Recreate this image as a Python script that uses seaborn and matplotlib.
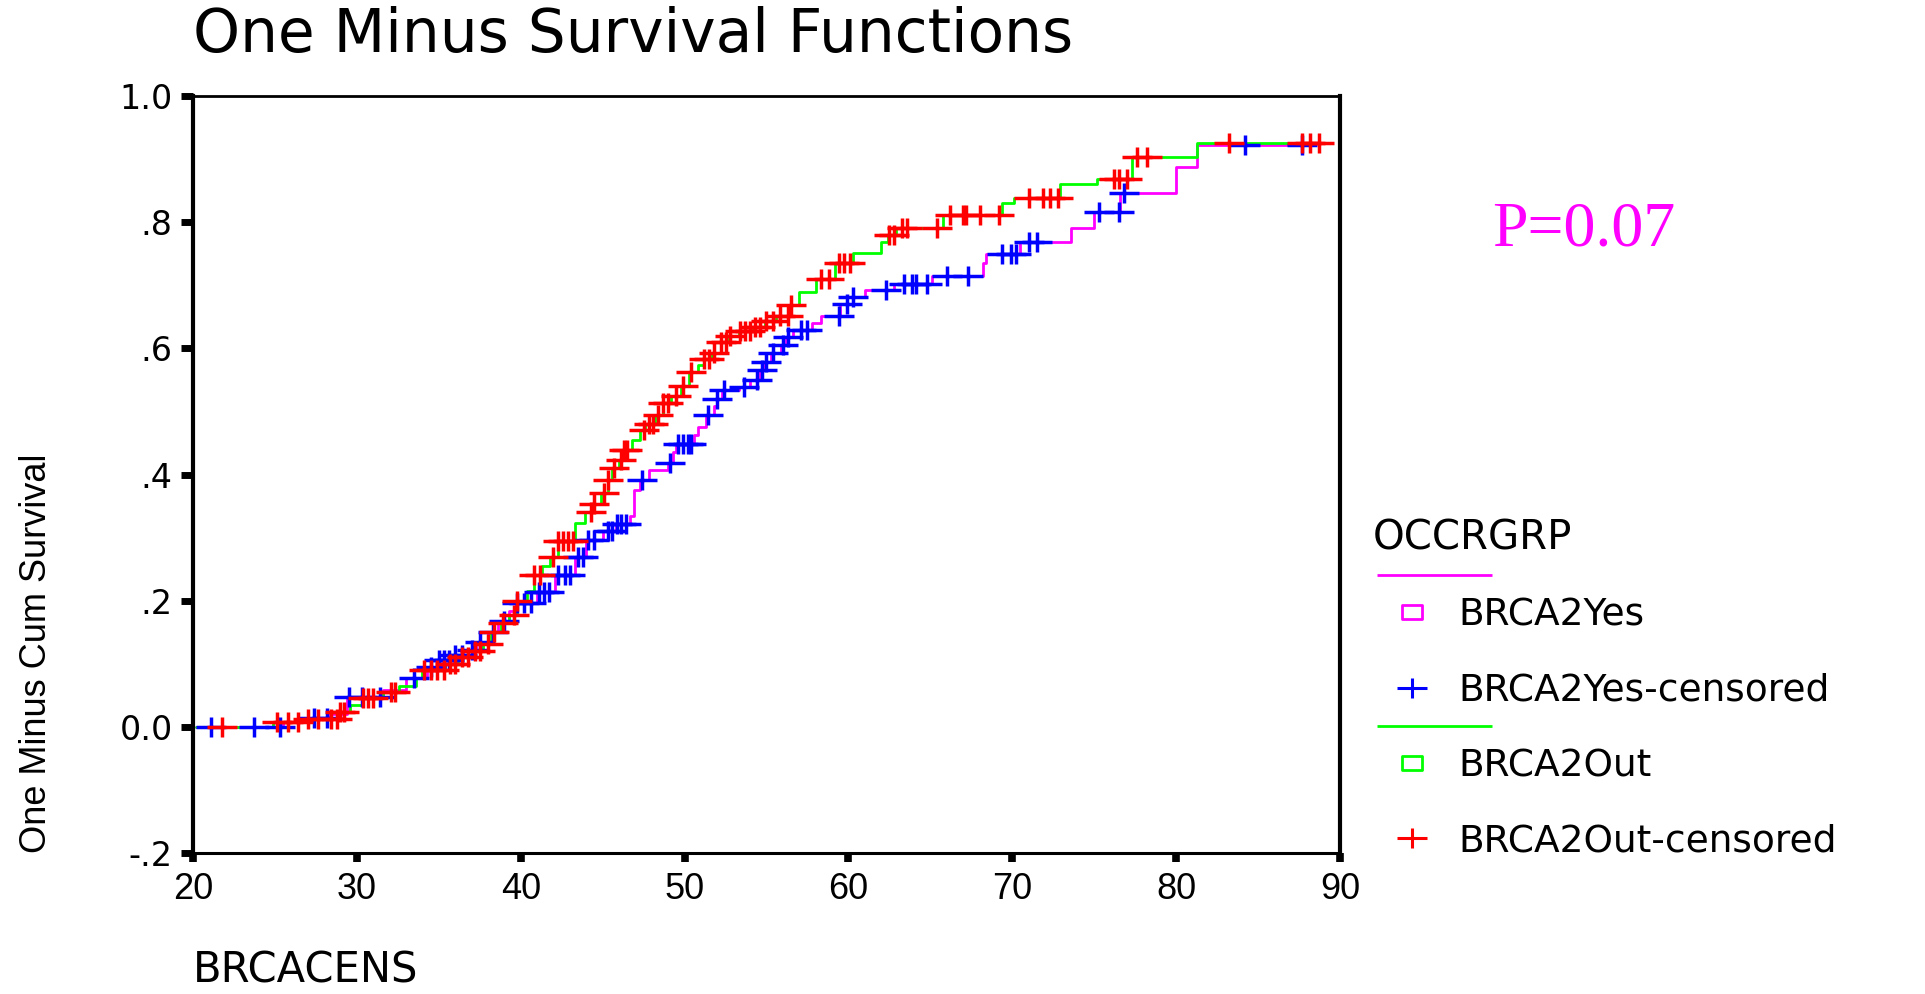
import numpy as np
import matplotlib
matplotlib.use("Agg")
import matplotlib.pyplot as plt
from matplotlib.path import Path
from matplotlib.lines import Line2D
from matplotlib.legend_handler import HandlerBase
from matplotlib import font_manager
import seaborn as sns

# ---------------------------------------------------------------------------
# Kaplan-Meier style curves (one minus cumulative survival), step breakpoints
# ---------------------------------------------------------------------------
yes_age = [20.2, 25.5, 27.2, 28.3, 29.4, 31.6, 33.0, 34.3, 35.0, 35.8, 36.5, 37.3,
           38.0, 38.6, 39.3, 39.7, 41.0, 42.1, 43.3, 44.0, 45.0, 45.8, 46.7, 46.9,
           47.3, 47.8, 49.0, 49.3, 49.5, 50.6, 50.8, 51.3, 51.8, 52.0, 52.3, 53.3,
           54.0, 54.6, 54.9, 55.3, 55.9, 56.2, 56.6, 57.8, 58.3, 59.5, 60.3, 61.0,
           62.8, 65.1, 68.2, 68.4, 70.5, 73.6, 75.0, 76.6, 80.0, 81.3, 87.7]
yes_cum = [0.000, 0.007, 0.014, 0.021, 0.048, 0.058, 0.077, 0.095, 0.106, 0.114, 0.122, 0.135,
           0.150, 0.168, 0.183, 0.196, 0.214, 0.240, 0.270, 0.296, 0.310, 0.322, 0.335, 0.375,
           0.391, 0.407, 0.418, 0.435, 0.449, 0.462, 0.476, 0.494, 0.508, 0.520, 0.534, 0.539,
           0.550, 0.565, 0.579, 0.592, 0.605, 0.618, 0.629, 0.640, 0.652, 0.671, 0.682, 0.692,
           0.702, 0.714, 0.735, 0.750, 0.769, 0.790, 0.816, 0.847, 0.887, 0.922, 0.922]

out_age = [20.2, 24.9, 26.9, 28.9, 29.6, 30.3, 31.6, 32.6, 33.6, 34.0, 35.4, 36.2,
           37.0, 37.7, 38.2, 38.8, 39.3, 39.8, 40.4, 40.8, 41.3, 41.8, 42.3, 43.3,
           43.9, 44.4, 44.9, 45.3, 45.6, 46.0, 46.3, 46.8, 47.3, 47.6, 48.2, 48.7,
           49.2, 49.8, 50.3, 50.8, 51.2, 51.7, 52.2, 52.7, 53.3, 54.2, 54.9, 55.6,
           56.4, 57.0, 58.0, 59.2, 60.3, 62.0, 62.4, 62.9, 65.8, 69.4, 70.1, 72.9,
           75.2, 77.3, 81.3, 88.7]
out_cum = [0.000, 0.008, 0.013, 0.024, 0.035, 0.045, 0.056, 0.064, 0.078, 0.090, 0.100, 0.110,
           0.120, 0.132, 0.150, 0.165, 0.178, 0.200, 0.215, 0.240, 0.255, 0.270, 0.295, 0.323,
           0.340, 0.354, 0.370, 0.391, 0.410, 0.423, 0.439, 0.454, 0.470, 0.480, 0.495, 0.513,
           0.525, 0.540, 0.562, 0.573, 0.583, 0.592, 0.610, 0.620, 0.628, 0.634, 0.643, 0.652,
           0.668, 0.690, 0.710, 0.735, 0.751, 0.769, 0.780, 0.790, 0.812, 0.830, 0.839, 0.860,
           0.869, 0.904, 0.926, 0.926]

# censored observations (age at censoring)
yes_censored = [21.1, 23.7, 25.3, 27.4, 28.2, 29.5, 30.3, 31.4, 33.5, 34.5, 35.0, 35.3,
                35.6, 36.0, 36.4, 37.0, 37.5, 38.3, 39.0, 39.8, 40.2, 40.6, 41.1, 41.4,
                41.7, 42.3, 42.7, 43.0, 43.5, 43.8, 44.1, 44.5, 45.3, 45.6, 45.9, 46.1,
                46.4, 47.4, 49.1, 49.6, 49.9, 50.2, 50.4, 51.4, 52.0, 52.4, 53.6, 54.4,
                54.7, 55.0, 55.4, 56.0, 56.3, 57.1, 57.5, 59.4, 59.9, 60.3, 62.3, 63.4,
                63.9, 64.1, 64.8, 66.0, 67.3, 69.4, 69.9, 70.2, 71.0, 71.5, 75.3, 76.5,
                76.8, 84.2, 87.7]
out_censored = [21.8, 25.1, 25.8, 26.4, 27.0, 27.6, 28.4, 28.8, 29.0, 29.2, 30.4, 30.7,
                31.0, 32.1, 32.3, 34.1, 34.5, 34.9, 35.3, 35.7, 36.0, 36.4, 36.8, 37.2,
                37.5, 38.0, 38.4, 38.9, 39.6, 39.8, 40.8, 41.2, 42.0, 42.3, 42.6, 42.9,
                43.2, 44.3, 44.5, 45.1, 45.3, 45.7, 46.1, 46.3, 46.5, 47.5, 47.8, 48.1,
                48.4, 48.7, 49.0, 49.5, 49.9, 50.4, 51.2, 51.5, 51.8, 52.2, 52.5, 52.8,
                53.4, 53.7, 54.0, 54.3, 54.6, 55.0, 55.4, 55.8, 56.3, 56.5, 58.3, 58.8,
                59.4, 59.7, 60.1, 62.5, 62.8, 63.3, 63.6, 65.4, 66.2, 67.0, 67.2, 68.0,
                69.2, 71.0, 71.9, 72.3, 72.8, 76.2, 76.5, 77.0, 77.6, 78.2, 83.2, 87.7,
                88.2, 88.7]

series_labels = ["BRCA2Yes", "BRCA2Yes-censored", "BRCA2Out", "BRCA2Out-censored"]
legend_title = "OCCRGRP"

x_ticks = [20, 30, 40, 50, 60, 70, 80, 90]
x_tick_labels = ["20", "30", "40", "50", "60", "70", "80", "90"]
y_ticks = [-0.2, 0.0, 0.2, 0.4, 0.6, 0.8, 1.0]
y_tick_labels = ["-.2", "0.0", ".2", ".4", ".6", ".8", "1.0"]

p_value_text = "P=0.07"

# ---------------------------------------------------------------------------
MAGENTA, BLUE, GREEN, RED = "#FF00FF", "#0000FF", "#00FF00", "#FF0000"

sns.set_style("ticks")
plt.rcParams["font.family"] = ["DejaVu Sans"]
for key in ("text.color", "axes.labelcolor", "xtick.color", "ytick.color", "axes.edgecolor"):
    plt.rcParams[key] = "black"

installed = {f.name for f in font_manager.fontManager.ttflist}
HAS_NARROW = "Liberation Sans Narrow" in installed
NARROW = "Liberation Sans Narrow" if HAS_NARROW else "Liberation Sans"

# wide "+" used for censored cases and a wide open box for the legend swatches
PLUS = Path([(-1.5, 0), (1.5, 0), (0, -1), (0, 1)],
            [Path.MOVETO, Path.LINETO, Path.MOVETO, Path.LINETO])
BOX = Path([(-1.5, -1), (1.5, -1), (1.5, 1), (-1.5, 1), (-1.5, -1)],
           [Path.MOVETO, Path.LINETO, Path.LINETO, Path.LINETO, Path.CLOSEPOLY])


def on_curve(step_x, step_y, at):
    idx = np.searchsorted(np.asarray(step_x), np.asarray(at), side="right") - 1
    return np.asarray(step_y)[np.clip(idx, 0, None)]


fig = plt.figure(figsize=(19.25, 9.94), dpi=100)
ax = fig.add_axes([0.10026, 0.14185, 0.59584, 0.76157])

sns.lineplot(x=yes_age, y=yes_cum, ax=ax, color=MAGENTA, linewidth=2.0,
             drawstyle="steps-post", estimator=None, sort=False, zorder=2)
sns.lineplot(x=out_age, y=out_cum, ax=ax, color=GREEN, linewidth=2.0,
             drawstyle="steps-post", estimator=None, sort=False, zorder=2)

sns.scatterplot(x=yes_censored, y=on_curve(yes_age, yes_cum, yes_censored), ax=ax,
                marker=PLUS, s=470, color=BLUE, edgecolor=BLUE, linewidth=2.5,
                zorder=3, legend=False)
sns.scatterplot(x=out_censored, y=on_curve(out_age, out_cum, out_censored), ax=ax,
                marker=PLUS, s=470, color=RED, edgecolor=RED, linewidth=2.5,
                zorder=4, legend=False)

# axes frame and ticks
ax.set_xlim(20, 90)
ax.set_ylim(-0.2, 1.0)
for side, lw in (("left", 3.0), ("right", 3.0), ("top", 2.0), ("bottom", 2.2)):
    ax.spines[side].set_linewidth(lw)
    ax.spines[side].set_color("black")

ax.set_xticks(x_ticks)
ax.set_xticklabels(x_tick_labels, fontfamily=NARROW, fontsize=27 if HAS_NARROW else 26)
ax.set_yticks(y_ticks)
ax.set_yticklabels(y_tick_labels, fontsize=24)
ax.tick_params(axis="y", direction="out", length=8.6, width=5, pad=6.0)
ax.tick_params(axis="x", direction="out", length=6.5, width=5.5, pad=7)

ax.set_title("One Minus Survival Functions", loc="left", fontsize=43, pad=31.7)
ax.set_xlabel("BRCACENS", loc="left", fontsize=30, labelpad=31)
ax.set_ylabel("One Minus Cum Survival", loc="bottom",
              fontsize=30 if HAS_NARROW else 26, fontfamily=NARROW)
ax.yaxis.set_label_coords(-0.1212, 0.0)

fig.text(1492 / 1925, 1 - 245 / 994, p_value_text, fontsize=46, color=MAGENTA,
         family="Liberation Serif", va="baseline", ha="left")


class GroupHandler(HandlerBase):
    """Open box swatch with the group's line drawn as a rule above it."""

    def create_artists(self, legend, orig_handle, xdescent, ydescent, width, height,
                       fontsize, trans):
        color = orig_handle.get_markeredgecolor()
        xc = (width - xdescent) / 2
        yc = (height - ydescent) / 2
        rule = Line2D([-xdescent + 0.05 * width, -xdescent + 1.53 * width],
                      [yc + 27.0, yc + 27.0], color=color, linewidth=2.0,
                      solid_capstyle="butt")
        box = Line2D([xc], [yc], marker=BOX, markersize=15, markerfacecolor="none",
                     markeredgecolor=color, markeredgewidth=2.0, linestyle="none")
        rule.set_transform(trans)
        box.set_transform(trans)
        return [rule, box]


h_yes = Line2D([], [], marker=BOX, markeredgecolor=MAGENTA, markerfacecolor="none",
               linestyle="none")
h_yes_c = Line2D([], [], marker=PLUS, markersize=21.6, markeredgecolor=BLUE,
                 markerfacecolor="none", markeredgewidth=2.2, linestyle="none")
h_out = Line2D([], [], marker=BOX, markeredgecolor=GREEN, markerfacecolor="none",
               linestyle="none")
h_out_c = Line2D([], [], marker=PLUS, markersize=21.6, markeredgecolor=RED,
                 markerfacecolor="none", markeredgewidth=2.2, linestyle="none")

leg_fs = 27.0
fig.legend(handles=[h_yes, h_yes_c, h_out, h_out_c], labels=series_labels,
           handler_map={h_yes: GroupHandler(), h_out: GroupHandler()},
           loc="upper left", bbox_to_anchor=(1373 / 1925, 1 - 518 / 994),
           frameon=False, borderpad=0, borderaxespad=0,
           title=legend_title, title_fontproperties={"size": 29}, alignment="left",
           fontsize=leg_fs, handlelength=78 * 0.72 / leg_fs,
           handletextpad=7 * 0.72 / leg_fs, labelspacing=1.05)

fig.savefig("out.png", dpi=100)
